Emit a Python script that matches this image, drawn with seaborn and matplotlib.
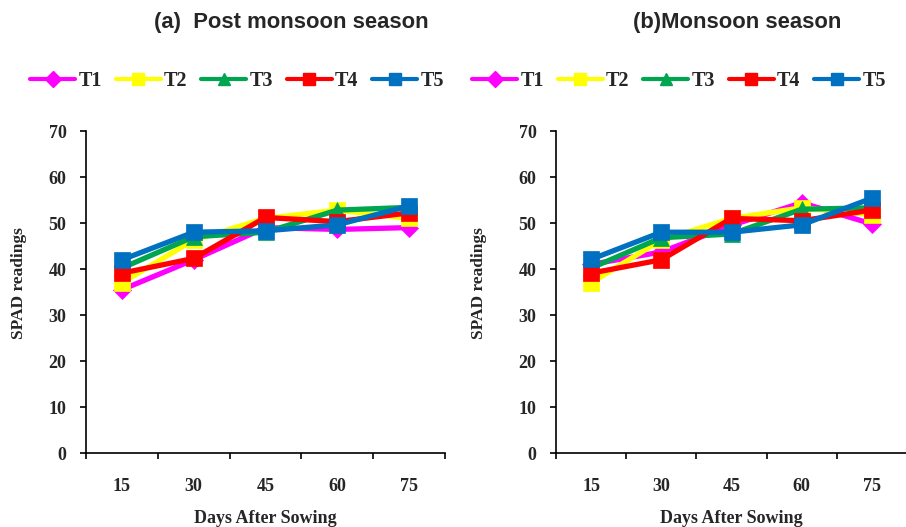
import matplotlib
matplotlib.use("Agg")
import matplotlib.pyplot as plt
from matplotlib.lines import Line2D
import seaborn as sns
import pandas as pd

days = ["15", "30", "45", "60", "75"]
treatments = ["T1", "T2", "T3", "T4", "T5"]

post_T1 = [35.5, 42.0, 49.0, 48.6, 49.0]
post_T2 = [37.0, 46.3, 51.0, 52.8, 51.0]
post_T3 = [40.2, 47.0, 48.0, 52.8, 53.4]
post_T4 = [39.1, 42.3, 51.2, 50.3, 52.2]
post_T5 = [42.0, 48.0, 48.3, 49.6, 53.7]

mon_T1 = [41.0, 43.7, 49.5, 54.4, 49.8]
mon_T2 = [37.0, 46.3, 51.0, 53.3, 51.8]
mon_T3 = [40.2, 46.8, 47.6, 53.0, 53.3]
mon_T4 = [39.1, 42.0, 51.0, 50.5, 52.8]
mon_T5 = [42.1, 48.0, 48.0, 49.6, 55.4]

colors = ["#FF00FF", "#FFFF00", "#00A550", "#FF0000", "#0070C0"]
markers = ["D", "s", "^", "s", "s"]
msizes = [9, 11, 11, 11, 11]

def long_df(series):
    rows = []
    for t, vals in zip(treatments, series):
        for d, v in zip(days, vals):
            rows.append({"Days": d, "SPAD": v, "T": t})
    return pd.DataFrame(rows)

df_post = long_df([post_T1, post_T2, post_T3, post_T4, post_T5])
df_mon = long_df([mon_T1, mon_T2, mon_T3, mon_T4, mon_T5])

sns.set_style("white")
serif = ["Liberation Serif", "DejaVu Serif"]
sans = ["Liberation Sans", "DejaVu Sans"]
plt.rcParams["font.family"] = serif

W, H = 906, 527
fig = plt.figure(figsize=(W / 100, H / 100), dpi=100)
ax1 = fig.add_axes([86 / W, 1 - 453 / H, 359 / W, 322 / H])
ax2 = fig.add_axes([556 / W, 1 - 453 / H, 351 / W, 322 / H])

for ax, df, title, tx in [
    (ax1, df_post, "(a)  Post monsoon season", 0.571),
    (ax2, df_mon, "(b)Monsoon season", 0.516),
]:
    for i, t in enumerate(treatments):
        sub = df[df["T"] == t]
        sns.pointplot(data=sub, x="Days", y="SPAD", order=days, color=colors[i],
                      marker=markers[i], markersize=msizes[i], linewidth=3.8,
                      markeredgewidth=0.5, errorbar=None, ax=ax)
    ax.set_xlim(-0.5, 4.5)
    ax.set_ylim(0, 70)
    ax.set_yticks(range(0, 71, 10))
    ax.set_xticks([-0.5, 0.5, 1.5, 2.5, 3.5, 4.5])
    ax.set_xticklabels([])
    ax.set_xticks(range(5), minor=True)
    ax.set_xticklabels(days, minor=True)
    ax.tick_params(axis="x", which="major", direction="out", length=4, width=1.2, color="black", bottom=True)
    ax.tick_params(axis="x", which="minor", length=0, pad=18, labelsize=13)
    ax.tick_params(axis="y", direction="out", length=4, width=1.2, color="black", pad=10, labelsize=13, left=True)
    for lbl in ax.get_xticklabels(minor=True) + ax.get_yticklabels():
        lbl.set_fontweight("bold")
    for s in ["top", "right"]:
        ax.spines[s].set_visible(False)
    for s in ["left", "bottom"]:
        ax.spines[s].set_color("black")
        ax.spines[s].set_linewidth(1.2)
    ax.set_xlabel("Days After Sowing", fontsize=13, fontweight="bold")
    ax.set_ylabel("SPAD readings", fontsize=12.5, fontweight="bold")
    ax.set_title(title, family=sans, fontsize=15.8, fontweight="bold", x=tx, y=1.31, va="center")
    ax.grid(False)

ax1.xaxis.set_label_coords(0.5, -0.178)
ax2.xaxis.set_label_coords(0.5, -0.178)
ax1.yaxis.set_label_coords(-0.163, 0.528)
ax2.yaxis.set_label_coords(-0.197, 0.528)

handles = [Line2D([0], [0], color=c, marker=m, markersize=ms * 0.85, linewidth=3)
           for c, m, ms in zip(colors, markers, msizes)]
leg_kw = dict(ncol=5, frameon=False, handlelength=2.25, handletextpad=0.15,
              columnspacing=0.68, prop={"family": serif, "weight": "bold", "size": 14.5},
              loc="center left")
fig.legend(handles, treatments, bbox_to_anchor=(12 / W, 1 - 81 / H), **leg_kw)
fig.legend(handles, treatments, bbox_to_anchor=(454 / W, 1 - 81 / H), **leg_kw)

fig.savefig("out.png", dpi=100)
